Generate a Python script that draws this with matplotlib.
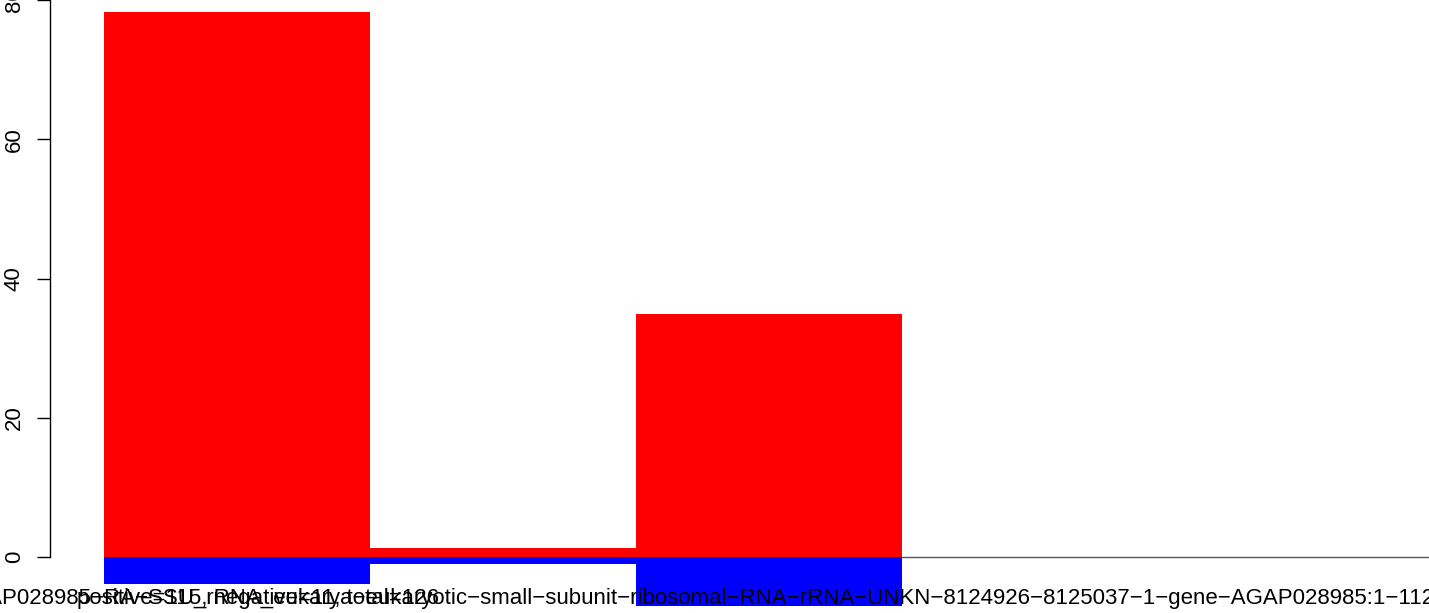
import matplotlib
matplotlib.use("Agg")
import matplotlib.pyplot as plt

# values
categories = ["c1", "c2", "c3"]
positive = [78.3, 1.33, 34.9]
negative = [-3.9, -0.9, -7.0]
y_ticks = [0, 20, 40, 60, 80]
long_label = ("AGAP028985\u2212RA\u2212SSU_rRNA_eukarya\u2212eukaryotic\u2212small"
              "\u2212subunit\u2212ribosomal\u2212RNA\u2212rRNA\u2212UNKN\u22128124926"
              "\u22128125037\u22121\u2212gene\u2212AGAP028985:1\u2212112")
summary_label = "positive=115, negative=11, total=126"

plt.rcParams["font.family"] = ["Liberation Sans", "DejaVu Sans"]

W, H = 1429, 613
fig = plt.figure(figsize=(W / 100, H / 100), dpi=100)
ax = fig.add_axes([50 / W, 0, (W - 50) / W, 1])

x = list(range(len(categories)))
ax.bar(x, positive, width=1.0, color="#FF0000", linewidth=0, zorder=2)
ax.bar(x, negative, width=1.0, color="#0000FF", linewidth=0, zorder=2)
ax.hlines(0, -0.5, 10, color="#555555", linewidth=1, zorder=1)

ax.set_xlim(-0.703, 4.481)
ax.set_ylim(-8.0, 79.57)

for s in ["top", "right", "bottom"]:
    ax.spines[s].set_visible(False)
ax.spines["left"].set_bounds(0, 80)
ax.spines["left"].set_linewidth(1)
ax.spines["left"].set_clip_on(False)
ax.set_xticks([])
ax.set_yticks(y_ticks)
ax.set_yticklabels([str(t) for t in y_ticks], rotation=90, va="center",
                   fontsize=16)
ax.tick_params(axis="y", length=9.4, width=1, pad=8.6)
for t in ax.yaxis.get_major_ticks():
    t.tick1line.set_clip_on(False)

fig.text(1435 / W, 1 - 604 / H, long_label, fontsize=16, ha="right",
         va="baseline", color="black")
fig.text(77 / W, 1 - 604 / H, summary_label, fontsize=16, ha="left",
         va="baseline", color="black")

fig.savefig("out.png", dpi=100)
